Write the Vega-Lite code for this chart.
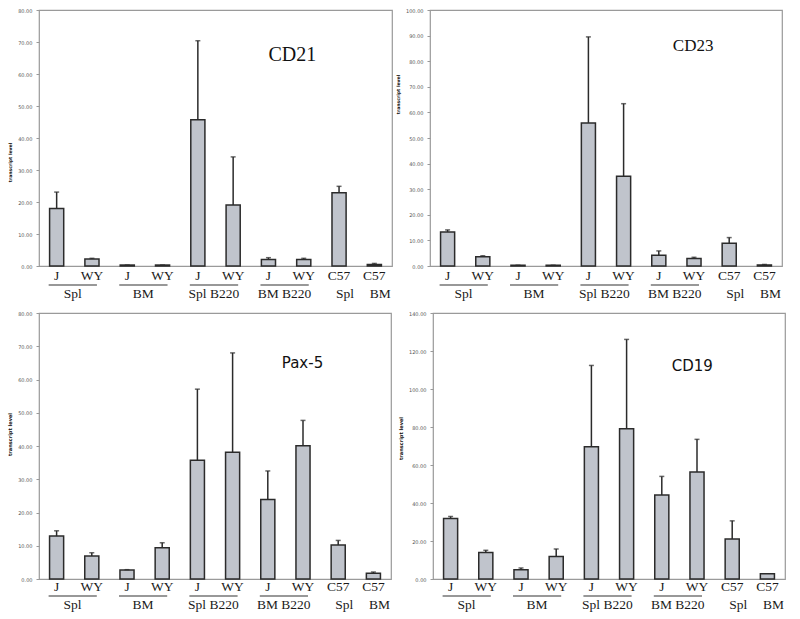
{
  "$schema": "https://vega.github.io/schema/vega-lite/v6.json",
  "padding": {"left": 7, "top": 7, "right": 0, "bottom": 0},
  "background": "white",
  "config": {"view": {"stroke": "#9a9a9a", "strokeWidth": 1.2}, "axis": {"grid": false}, "axisY": {"labelOverlap": false}},
  "datasets": {
    "bars": [
      {"gene": "CD21", "cat": "Spl|J", "mean": 18.0, "upper": 23.1},
      {"gene": "CD21", "cat": "Spl|WY", "mean": 2.2, "upper": 2.4},
      {"gene": "CD21", "cat": "BM|J", "mean": 0.3, "upper": 0.3},
      {"gene": "CD21", "cat": "BM|WY", "mean": 0.3, "upper": 0.3},
      {"gene": "CD21", "cat": "Spl B220|J", "mean": 45.7, "upper": 70.4},
      {"gene": "CD21", "cat": "Spl B220|WY", "mean": 19.1, "upper": 34.1},
      {"gene": "CD21", "cat": "BM B220|J", "mean": 2.0, "upper": 2.6},
      {"gene": "CD21", "cat": "BM B220|WY", "mean": 2.0, "upper": 2.4},
      {"gene": "CD21", "cat": "Spl|C57", "mean": 22.9, "upper": 24.9},
      {"gene": "CD21", "cat": "BM|C57", "mean": 0.5, "upper": 0.8},
      {"gene": "CD23", "cat": "Spl|J", "mean": 13.3, "upper": 14.1},
      {"gene": "CD23", "cat": "Spl|WY", "mean": 3.6, "upper": 4.0},
      {"gene": "CD23", "cat": "BM|J", "mean": 0.3, "upper": 0.3},
      {"gene": "CD23", "cat": "BM|WY", "mean": 0.3, "upper": 0.3},
      {"gene": "CD23", "cat": "Spl B220|J", "mean": 55.9, "upper": 89.5},
      {"gene": "CD23", "cat": "Spl B220|WY", "mean": 35.1, "upper": 63.4},
      {"gene": "CD23", "cat": "BM B220|J", "mean": 4.2, "upper": 5.9},
      {"gene": "CD23", "cat": "BM B220|WY", "mean": 2.9, "upper": 3.4},
      {"gene": "CD23", "cat": "Spl|C57", "mean": 8.9, "upper": 11.1},
      {"gene": "CD23", "cat": "BM|C57", "mean": 0.4, "upper": 0.6},
      {"gene": "Pax-5", "cat": "Spl|J", "mean": 12.9, "upper": 14.5},
      {"gene": "Pax-5", "cat": "Spl|WY", "mean": 6.9, "upper": 7.9},
      {"gene": "Pax-5", "cat": "BM|J", "mean": 2.7, "upper": 2.8},
      {"gene": "Pax-5", "cat": "BM|WY", "mean": 9.4, "upper": 10.9},
      {"gene": "Pax-5", "cat": "Spl B220|J", "mean": 35.7, "upper": 57.1},
      {"gene": "Pax-5", "cat": "Spl B220|WY", "mean": 38.1, "upper": 68.0},
      {"gene": "Pax-5", "cat": "BM B220|J", "mean": 23.9, "upper": 32.5},
      {"gene": "Pax-5", "cat": "BM B220|WY", "mean": 40.1, "upper": 47.7},
      {"gene": "Pax-5", "cat": "Spl|C57", "mean": 10.2, "upper": 11.6},
      {"gene": "Pax-5", "cat": "BM|C57", "mean": 1.7, "upper": 2.1},
      {"gene": "CD19", "cat": "Spl|J", "mean": 31.9, "upper": 32.9},
      {"gene": "CD19", "cat": "Spl|WY", "mean": 13.9, "upper": 15.1},
      {"gene": "CD19", "cat": "BM|J", "mean": 4.9, "upper": 5.8},
      {"gene": "CD19", "cat": "BM|WY", "mean": 11.8, "upper": 15.8},
      {"gene": "CD19", "cat": "Spl B220|J", "mean": 69.6, "upper": 112.4},
      {"gene": "CD19", "cat": "Spl B220|WY", "mean": 79.1, "upper": 126.1},
      {"gene": "CD19", "cat": "BM B220|J", "mean": 44.2, "upper": 54.0},
      {"gene": "CD19", "cat": "BM B220|WY", "mean": 56.3, "upper": 73.5},
      {"gene": "CD19", "cat": "Spl|C57", "mean": 21.1, "upper": 30.6},
      {"gene": "CD19", "cat": "BM|C57", "mean": 2.8, "upper": 2.8}
    ],
    "groups": [
      {"group": "Spl", "first": "Spl|J", "last": "Spl|WY"},
      {"group": "BM", "first": "BM|J", "last": "BM|WY"},
      {"group": "Spl B220", "first": "Spl B220|J", "last": "Spl B220|WY"},
      {"group": "BM B220", "first": "BM B220|J", "last": "BM B220|WY"}
    ],
    "titles": [
      {"gene": "CD21", "title": "CD21"},
      {"gene": "CD23", "title": "CD23"},
      {"gene": "Pax-5", "title": "Pax-5"},
      {"gene": "CD19", "title": "CD19"}
    ]
  },
  "spacing": 9,
  "vconcat": [
    {
      "spacing": 1,
      "hconcat": [
        {
          "width": 353, "height": 256,
          "resolve": {"axis": {"x": "independent", "y": "independent"}},
          "layer": [
            {
              "data": {"name": "bars"},
              "transform": [{"filter": "datum.gene === 'CD21'"}],
              "mark": {"type": "bar", "fill": "#c0c4cc", "stroke": "#2b2b2b", "strokeWidth": 1.5},
              "encoding": {
                "x": {"field": "cat", "type": "nominal",
                  "scale": {"domain": ["Spl|J","Spl|WY","BM|J","BM|WY","Spl B220|J","Spl B220|WY","BM B220|J","BM B220|WY","Spl|C57","BM|C57"], "paddingInner": 0.6, "paddingOuter": 0.3},
                  "axis": {"orient": "bottom", "title": null, "labelExpr": "split(datum.value, '|')[1]", "labelAngle": 0, "ticks": false, "domain": false, "labelPadding": 2, "labelFont": "Times New Roman, Liberation Serif, serif", "labelFontSize": 13.5, "labelColor": "#1a1a1a", "labelOverlap": false}},
                "y": {"field": "mean", "type": "quantitative", "scale": {"domain": [0, 80], "nice": false},
                  "axis": {"orient": "left", "title": "transcript level", "values": [0,10,20,30,40,50,60,70,80], "format": ".2f", "labelOverlap": false, "domain": false, "tickSize": 3, "tickColor": "#999", "labelPadding": 4, "labelFont": "DejaVu Sans", "labelFontSize": 5, "labelColor": "#555", "titleFont": "DejaVu Sans", "titleFontWeight": "bold", "titleFontSize": 4.6, "titleColor": "#111", "titlePadding": 5, "titleY": 152}}
              }
            },
            {
              "data": {"name": "bars"},
              "transform": [{"filter": "datum.gene === 'CD21'"}],
              "mark": {"type": "rule", "stroke": "#2b2b2b", "strokeWidth": 1.5},
              "encoding": {"x": {"field": "cat", "type": "nominal", "axis": null}, "y": {"field": "mean", "type": "quantitative", "axis": null}, "y2": {"field": "upper"}}
            },
            {
              "data": {"name": "bars"},
              "transform": [{"filter": "datum.gene === 'CD21'"}],
              "mark": {"type": "tick", "color": "#2b2b2b", "size": 5, "thickness": 1.5},
              "encoding": {"x": {"field": "cat", "type": "nominal", "axis": null}, "y": {"field": "upper", "type": "quantitative", "axis": null}}
            },
            {
              "data": {"name": "groups"},
              "mark": {"type": "rule", "stroke": "#333", "strokeWidth": 1.2, "xOffset": -8, "x2Offset": 5, "yOffset": 19},
              "encoding": {
                "x": {"field": "first", "type": "nominal",
                  "axis": {"orient": "bottom", "title": null, "labelAngle": 0, "ticks": false, "domain": false, "labelOverlap": false, "labelPadding": 20, "labelFont": "Times New Roman, Liberation Serif, serif", "labelFontSize": 13.5, "labelColor": "#1a1a1a",
                    "labelExpr": "split(datum.value, '|')[1] === 'WY' ? '' : split(datum.value, '|')[0]",
                    "labelOffset": {"condition": {"test": "split(datum.value, '|')[1] === 'J'", "value": 16}, "value": 6}}},
                "x2": {"field": "last"},
                "y": {"datum": 0, "axis": null}
              }
            },
            {
              "data": {"name": "titles"},
              "transform": [{"filter": "datum.gene === 'CD21'"}],
              "mark": {"type": "text", "align": "left", "baseline": "middle", "font": "Times New Roman, Liberation Serif, serif", "fontSize": 20, "dx": 0, "color": "#111"},
              "encoding": {"x": {"datum": "BM B220|J", "type": "nominal", "axis": null}, "y": {"datum": 66, "axis": null}, "text": {"field": "title"}}
            }
          ]
        },
        {
          "width": 352, "height": 256,
          "resolve": {"axis": {"x": "independent", "y": "independent"}},
          "layer": [
            {
              "data": {"name": "bars"},
              "transform": [{"filter": "datum.gene === 'CD23'"}],
              "mark": {"type": "bar", "fill": "#c0c4cc", "stroke": "#2b2b2b", "strokeWidth": 1.5},
              "encoding": {
                "x": {"field": "cat", "type": "nominal",
                  "scale": {"domain": ["Spl|J","Spl|WY","BM|J","BM|WY","Spl B220|J","Spl B220|WY","BM B220|J","BM B220|WY","Spl|C57","BM|C57"], "paddingInner": 0.6, "paddingOuter": 0.3},
                  "axis": {"orient": "bottom", "title": null, "labelExpr": "split(datum.value, '|')[1]", "labelAngle": 0, "ticks": false, "domain": false, "labelPadding": 2, "labelFont": "Times New Roman, Liberation Serif, serif", "labelFontSize": 13.5, "labelColor": "#1a1a1a", "labelOverlap": false}},
                "y": {"field": "mean", "type": "quantitative", "scale": {"domain": [0, 100], "nice": false},
                  "axis": {"orient": "left", "title": "transcript level", "values": [0,10,20,30,40,50,60,70,80,90,100], "format": ".2f", "labelOverlap": false, "domain": false, "tickSize": 3, "tickColor": "#999", "labelPadding": 4, "labelFont": "DejaVu Sans", "labelFontSize": 5, "labelColor": "#555", "titleFont": "DejaVu Sans", "titleFontWeight": "bold", "titleFontSize": 4.6, "titleColor": "#111", "titlePadding": 5, "titleY": 84}}
              }
            },
            {
              "data": {"name": "bars"},
              "transform": [{"filter": "datum.gene === 'CD23'"}],
              "mark": {"type": "rule", "stroke": "#2b2b2b", "strokeWidth": 1.5},
              "encoding": {"x": {"field": "cat", "type": "nominal", "axis": null}, "y": {"field": "mean", "type": "quantitative", "axis": null}, "y2": {"field": "upper"}}
            },
            {
              "data": {"name": "bars"},
              "transform": [{"filter": "datum.gene === 'CD23'"}],
              "mark": {"type": "tick", "color": "#2b2b2b", "size": 5, "thickness": 1.5},
              "encoding": {"x": {"field": "cat", "type": "nominal", "axis": null}, "y": {"field": "upper", "type": "quantitative", "axis": null}}
            },
            {
              "data": {"name": "groups"},
              "mark": {"type": "rule", "stroke": "#333", "strokeWidth": 1.2, "xOffset": -8, "x2Offset": 5, "yOffset": 19},
              "encoding": {
                "x": {"field": "first", "type": "nominal",
                  "axis": {"orient": "bottom", "title": null, "labelAngle": 0, "ticks": false, "domain": false, "labelOverlap": false, "labelPadding": 20, "labelFont": "Times New Roman, Liberation Serif, serif", "labelFontSize": 13.5, "labelColor": "#1a1a1a",
                    "labelExpr": "split(datum.value, '|')[1] === 'WY' ? '' : split(datum.value, '|')[0]",
                    "labelOffset": {"condition": {"test": "split(datum.value, '|')[1] === 'J'", "value": 16}, "value": 6}}},
                "x2": {"field": "last"},
                "y": {"datum": 0, "axis": null}
              }
            },
            {
              "data": {"name": "titles"},
              "transform": [{"filter": "datum.gene === 'CD23'"}],
              "mark": {"type": "text", "align": "left", "baseline": "middle", "font": "Times New Roman, Liberation Serif, serif", "fontSize": 17, "dx": 14, "color": "#111"},
              "encoding": {"x": {"datum": "BM B220|J", "type": "nominal", "axis": null}, "y": {"datum": 86, "axis": null}, "text": {"field": "title"}}
            }
          ]
        }
      ]
    },
    {
      "spacing": 5,
      "hconcat": [
        {
          "width": 352, "height": 266,
          "resolve": {"axis": {"x": "independent", "y": "independent"}},
          "layer": [
            {
              "data": {"name": "bars"},
              "transform": [{"filter": "datum.gene === 'Pax-5'"}],
              "mark": {"type": "bar", "fill": "#c0c4cc", "stroke": "#2b2b2b", "strokeWidth": 1.5},
              "encoding": {
                "x": {"field": "cat", "type": "nominal",
                  "scale": {"domain": ["Spl|J","Spl|WY","BM|J","BM|WY","Spl B220|J","Spl B220|WY","BM B220|J","BM B220|WY","Spl|C57","BM|C57"], "paddingInner": 0.6, "paddingOuter": 0.3},
                  "axis": {"orient": "bottom", "title": null, "labelExpr": "split(datum.value, '|')[1]", "labelAngle": 0, "ticks": false, "domain": false, "labelPadding": 0, "labelFont": "Times New Roman, Liberation Serif, serif", "labelFontSize": 13.5, "labelColor": "#1a1a1a", "labelOverlap": false}},
                "y": {"field": "mean", "type": "quantitative", "scale": {"domain": [0, 80], "nice": false},
                  "axis": {"orient": "left", "title": "transcript level", "values": [0,10,20,30,40,50,60,70,80], "format": ".2f", "labelOverlap": false, "domain": false, "tickSize": 3, "tickColor": "#999", "labelPadding": 4, "labelFont": "DejaVu Sans", "labelFontSize": 5, "labelColor": "#555", "titleFont": "DejaVu Sans", "titleFontWeight": "bold", "titleFontSize": 5, "titleColor": "#111", "titlePadding": 5, "titleY": 121}}
              }
            },
            {
              "data": {"name": "bars"},
              "transform": [{"filter": "datum.gene === 'Pax-5'"}],
              "mark": {"type": "rule", "stroke": "#2b2b2b", "strokeWidth": 1.5},
              "encoding": {"x": {"field": "cat", "type": "nominal", "axis": null}, "y": {"field": "mean", "type": "quantitative", "axis": null}, "y2": {"field": "upper"}}
            },
            {
              "data": {"name": "bars"},
              "transform": [{"filter": "datum.gene === 'Pax-5'"}],
              "mark": {"type": "tick", "color": "#2b2b2b", "size": 5, "thickness": 1.5},
              "encoding": {"x": {"field": "cat", "type": "nominal", "axis": null}, "y": {"field": "upper", "type": "quantitative", "axis": null}}
            },
            {
              "data": {"name": "groups"},
              "mark": {"type": "rule", "stroke": "#333", "strokeWidth": 1.2, "xOffset": -8, "x2Offset": 5, "yOffset": 17},
              "encoding": {
                "x": {"field": "first", "type": "nominal",
                  "axis": {"orient": "bottom", "title": null, "labelAngle": 0, "ticks": false, "domain": false, "labelOverlap": false, "labelPadding": 18, "labelFont": "Times New Roman, Liberation Serif, serif", "labelFontSize": 13.5, "labelColor": "#1a1a1a",
                    "labelExpr": "split(datum.value, '|')[1] === 'WY' ? '' : split(datum.value, '|')[0]",
                    "labelOffset": {"condition": {"test": "split(datum.value, '|')[1] === 'J'", "value": 16}, "value": 6}}},
                "x2": {"field": "last"},
                "y": {"datum": 0, "axis": null}
              }
            },
            {
              "data": {"name": "titles"},
              "transform": [{"filter": "datum.gene === 'Pax-5'"}],
              "mark": {"type": "text", "align": "left", "baseline": "middle", "font": "DejaVu Sans", "fontSize": 15, "dx": 14, "color": "#111"},
              "encoding": {"x": {"datum": "BM B220|J", "type": "nominal", "axis": null}, "y": {"datum": 65, "axis": null}, "text": {"field": "title"}}
            }
          ]
        },
        {
          "width": 352, "height": 266,
          "resolve": {"axis": {"x": "independent", "y": "independent"}},
          "layer": [
            {
              "data": {"name": "bars"},
              "transform": [{"filter": "datum.gene === 'CD19'"}],
              "mark": {"type": "bar", "fill": "#c0c4cc", "stroke": "#2b2b2b", "strokeWidth": 1.5},
              "encoding": {
                "x": {"field": "cat", "type": "nominal",
                  "scale": {"domain": ["Spl|J","Spl|WY","BM|J","BM|WY","Spl B220|J","Spl B220|WY","BM B220|J","BM B220|WY","Spl|C57","BM|C57"], "paddingInner": 0.6, "paddingOuter": 0.3},
                  "axis": {"orient": "bottom", "title": null, "labelExpr": "split(datum.value, '|')[1]", "labelAngle": 0, "ticks": false, "domain": false, "labelPadding": 0, "labelFont": "Times New Roman, Liberation Serif, serif", "labelFontSize": 13.5, "labelColor": "#1a1a1a", "labelOverlap": false}},
                "y": {"field": "mean", "type": "quantitative", "scale": {"domain": [0, 140], "nice": false},
                  "axis": {"orient": "left", "title": "transcript level", "values": [0,20,40,60,80,100,120,140], "format": ".2f", "labelOverlap": false, "domain": false, "tickSize": 3, "tickColor": "#999", "labelPadding": 4, "labelFont": "DejaVu Sans", "labelFontSize": 5, "labelColor": "#555", "titleFont": "DejaVu Sans", "titleFontWeight": "bold", "titleFontSize": 5, "titleColor": "#111", "titlePadding": 5, "titleY": 125}}
              }
            },
            {
              "data": {"name": "bars"},
              "transform": [{"filter": "datum.gene === 'CD19'"}],
              "mark": {"type": "rule", "stroke": "#2b2b2b", "strokeWidth": 1.5},
              "encoding": {"x": {"field": "cat", "type": "nominal", "axis": null}, "y": {"field": "mean", "type": "quantitative", "axis": null}, "y2": {"field": "upper"}}
            },
            {
              "data": {"name": "bars"},
              "transform": [{"filter": "datum.gene === 'CD19' && datum.upper > datum.mean"}],
              "mark": {"type": "tick", "color": "#2b2b2b", "size": 5, "thickness": 1.5},
              "encoding": {"x": {"field": "cat", "type": "nominal", "axis": null}, "y": {"field": "upper", "type": "quantitative", "axis": null}}
            },
            {
              "data": {"name": "groups"},
              "mark": {"type": "rule", "stroke": "#333", "strokeWidth": 1.2, "xOffset": -8, "x2Offset": 5, "yOffset": 17},
              "encoding": {
                "x": {"field": "first", "type": "nominal",
                  "axis": {"orient": "bottom", "title": null, "labelAngle": 0, "ticks": false, "domain": false, "labelOverlap": false, "labelPadding": 18, "labelFont": "Times New Roman, Liberation Serif, serif", "labelFontSize": 13.5, "labelColor": "#1a1a1a",
                    "labelExpr": "split(datum.value, '|')[1] === 'WY' ? '' : split(datum.value, '|')[0]",
                    "labelOffset": {"condition": {"test": "split(datum.value, '|')[1] === 'J'", "value": 16}, "value": 6}}},
                "x2": {"field": "last"},
                "y": {"datum": 0, "axis": null}
              }
            },
            {
              "data": {"name": "titles"},
              "transform": [{"filter": "datum.gene === 'CD19'"}],
              "mark": {"type": "text", "align": "left", "baseline": "middle", "font": "DejaVu Sans", "fontSize": 15, "dx": 10, "color": "#111"},
              "encoding": {"x": {"datum": "BM B220|J", "type": "nominal", "axis": null}, "y": {"datum": 112, "axis": null}, "text": {"field": "title"}}
            }
          ]
        }
      ]
    }
  ]
}
